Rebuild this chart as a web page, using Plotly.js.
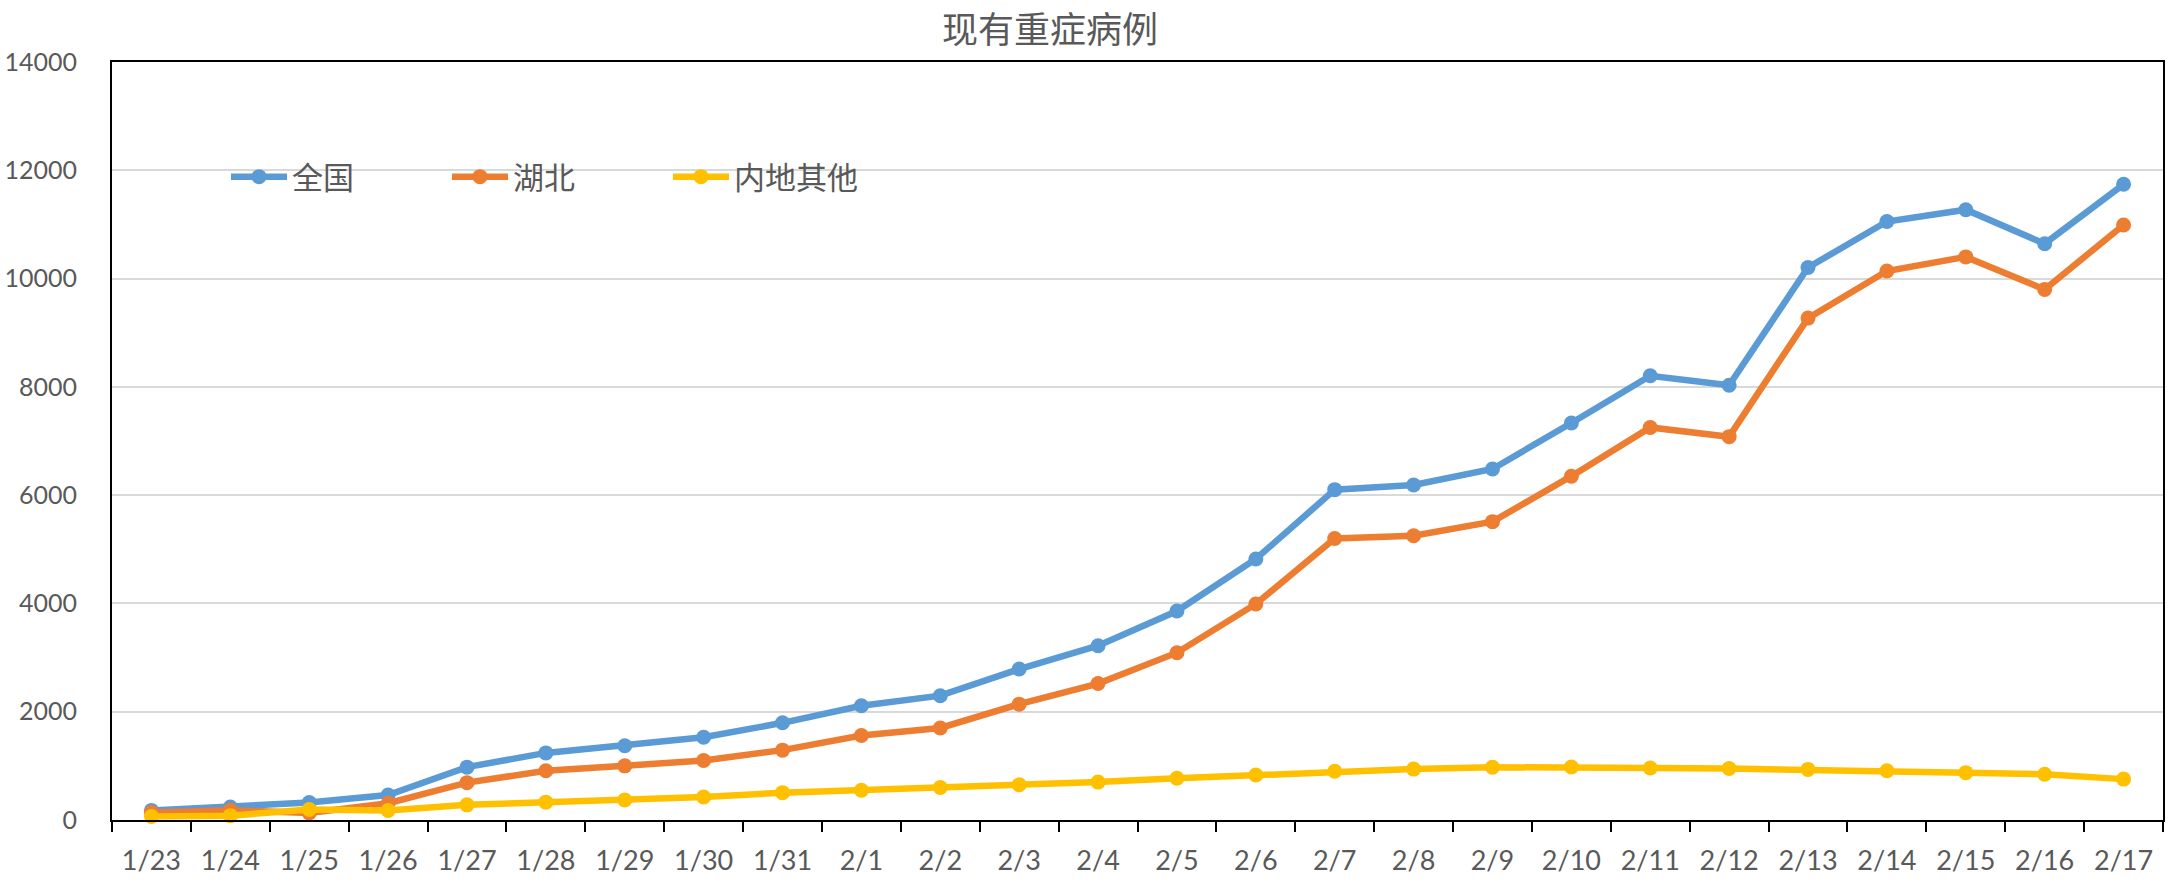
<!DOCTYPE html>
<html>
<head>
<meta charset="utf-8">
<script src="https://cdn.plot.ly/plotly-3.0.1.min.js"></script>
<style>
  html, body { margin: 0; padding: 0; background: #ffffff; }
  #chart { width: 2183px; height: 895px; }
</style>
</head>
<body>
<div id="chart"></div>
<script>
const categories = ["1/23","1/24","1/25","1/26","1/27","1/28","1/29","1/30","1/31",
  "2/1","2/2","2/3","2/4","2/5","2/6","2/7","2/8","2/9","2/10","2/11","2/12","2/13","2/14","2/15","2/16","2/17"];

const nationalValues = [177, 240, 324, 461, 976, 1239, 1370, 1527, 1795, 2110, 2296, 2788, 3219, 3859, 4821,
  6101, 6188, 6484, 7333, 8204, 8030, 10204, 11053, 11272, 10644, 11741];
const hubeiValues = [140, 180, 130, 310, 690, 910, 1000, 1100, 1290, 1560, 1700, 2140, 2520, 3090, 3990,
  5200, 5250, 5510, 6350, 7250, 7080, 9270, 10140, 10400, 9800, 10990];
const otherValues = [65, 80, 195, 175, 280, 330, 370, 425, 505, 550, 600, 650, 700, 770, 830,
  900, 940, 975, 980, 960, 950, 935, 910, 875, 845, 755];

const seriesNames = ["全国", "湖北", "内地其他"];
const seriesColors = ["#5B9BD5", "#ED7D31", "#FFC000"];
const yTicks = [0, 2000, 4000, 6000, 8000, 10000, 12000, 14000];

const W = 2183, H = 895;
const mL = 112, mR = 20, mT = 62, mB = 75;
const plotW = W - mL - mR, plotH = H - mT - mB;
const px2x = p => (p - mL) / plotW;
const py2y = p => (H - mB - p) / plotH;

const latin = "Lato, 'Noto Sans CJK SC', sans-serif";
const cjk = "'Noto Sans CJK SC', 'Noto Sans', sans-serif";
const textColor = "#595959";

const allValues = [nationalValues, hubeiValues, otherValues];
const traces = allValues.map((vals, i) => ({
  type: "scatter",
  mode: "lines+markers",
  name: seriesNames[i],
  x: categories,
  y: vals,
  line: { color: seriesColors[i], width: 6.5 },
  marker: { color: seriesColors[i], size: 15 },
  cliponaxis: false
}));

const layout = {
  width: W, height: H,
  margin: { l: mL, r: mR, t: mT, b: mB, pad: 0 },
  paper_bgcolor: "#ffffff",
  plot_bgcolor: "#ffffff",
  showlegend: true,
  title: {
    text: "现有重症病例",
    font: { family: cjk, size: 36, color: textColor },
    xref: "container", yref: "container",
    x: 1050 / W, y: 1 - 30 / H,
    xanchor: "center", yanchor: "middle"
  },
  xaxis: {
    type: "category",
    categoryorder: "array",
    categoryarray: categories,
    range: [-0.5, categories.length - 0.5],
    autorange: false,
    tickson: "boundaries",
    ticks: "outside",
    ticklen: 10,
    tickwidth: 2,
    tickcolor: "#000000",
    showline: true,
    linecolor: "#000000",
    linewidth: 2,
    mirror: true,
    showgrid: false,
    zeroline: false,
    ticklabelstandoff: 16,
    tickfont: { family: latin, size: 27, color: textColor },
    fixedrange: true
  },
  yaxis: {
    range: [0, 14000],
    autorange: false,
    tickmode: "array",
    tickvals: yTicks,
    ticktext: yTicks.map(String),
    ticks: "",
    showline: true,
    linecolor: "#000000",
    linewidth: 2,
    mirror: true,
    showgrid: true,
    gridcolor: "#D9D9D9",
    gridwidth: 2,
    zeroline: false,
    ticklabelstandoff: 28,
    tickfont: { family: latin, size: 25, color: textColor },
    fixedrange: true
  },
  legend: {
    orientation: "h",
    x: px2x(226), y: py2y(177),
    xanchor: "left", yanchor: "middle",
    bgcolor: "rgba(0,0,0,0)",
    borderwidth: 0,
    itemwidth: 56,
    entrywidth: 150,
    entrywidthmode: "pixels",
    font: { family: cjk, size: 31, color: textColor },
    itemclick: false, itemdoubleclick: false
  },
  shapes: [{
    type: "rect", layer: "between",
    xref: "paper", yref: "paper",
    x0: px2x(133), x1: px2x(956),
    y0: py2y(208), y1: py2y(146),
    fillcolor: "#ffffff", line: { width: 0 }
  }]
};

Plotly.newPlot("chart", traces, layout, { displayModeBar: false, staticPlot: true });
</script>
</body>
</html>
